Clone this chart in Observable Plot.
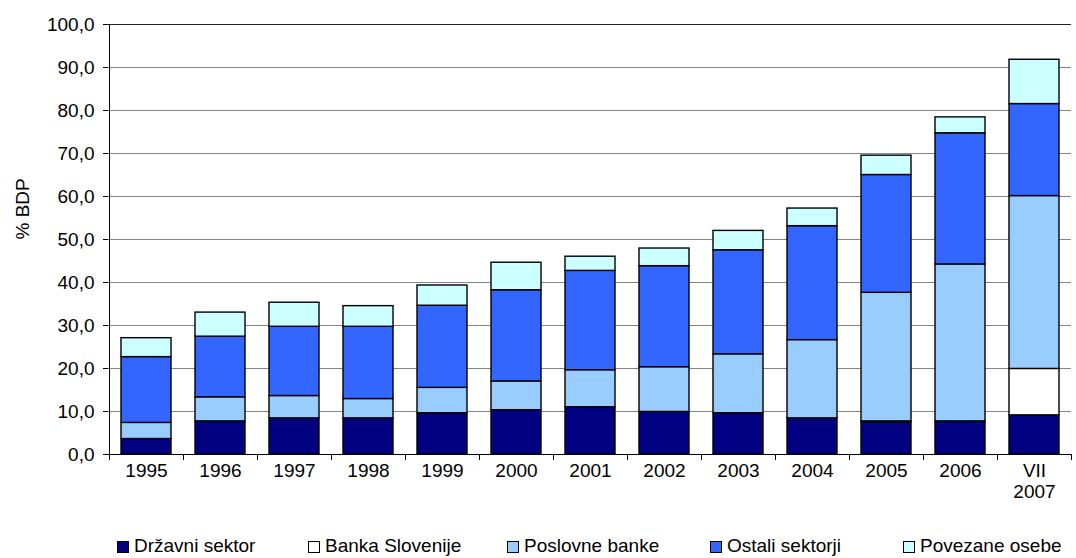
<!DOCTYPE html>
<html><head><meta charset="utf-8">
<script src="https://cdn.jsdelivr.net/npm/d3@7"></script>
<script src="https://cdn.jsdelivr.net/npm/@observablehq/plot@0.6"></script>
<style>
body{margin:0;background:#fff;font-family:"Liberation Sans",Arial,sans-serif;}
#wrap{position:relative;width:1076px;height:558px;overflow:hidden;}
#chart svg{display:block;}
.item{position:absolute;top:535px;height:21px;font-size:19px;line-height:21px;color:#000;white-space:nowrap;}
.sw{display:inline-block;width:10px;height:10px;border:1px solid #000;margin-right:5px;vertical-align:-1px;}
</style></head><body>
<div id="wrap"><div id="chart"></div><div id="legend"></div></div>
<script>
const years = ["1995","1996","1997","1998","1999","2000","2001","2002","2003","2004","2005","2006","VII\n2007"];
const drzavni  = [3.6, 7.7, 8.4, 8.4, 9.6, 10.3, 11.0, 9.9, 9.6, 8.4, 7.5, 7.7, 9.1];
const banka    = [0, 0, 0, 0, 0, 0, 0, 0, 0, 0, 0.2, 0, 10.8];
const poslovne = [3.75, 5.6, 5.2, 4.5, 5.9, 6.7, 8.6, 10.4, 13.7, 18.2, 29.9, 36.5, 40.2];
const ostali   = [15.3, 14.1, 16.1, 16.8, 19.1, 21.2, 23.1, 23.5, 24.2, 26.5, 27.4, 30.5, 21.4];
const povezane = [4.4, 5.6, 5.6, 4.8, 4.7, 6.4, 3.3, 4.1, 4.5, 4.1, 4.5, 3.7, 10.3];
const seriesNames = ["Državni sektor","Banka Slovenije","Poslovne banke","Ostali sektorji","Povezane osebe"];
const seriesColors = ["#000080","#ffffff","#99ccff","#3366ff","#ccffff"];
const yTicks = [0,10,20,30,40,50,60,70,80,90,100];

const seriesValues = [drzavni, banka, poslovne, ostali, povezane];
const data = [];
years.forEach((yr, i) => seriesValues.forEach((arr, k) => data.push({year: yr, series: seriesNames[k], value: arr[i]})));

const H = 528, W = 1076;
const fmt = d => d.toFixed(1).replace(".", ",");
const half = -37;
const chart = Plot.plot({
  width: W, height: H,
  marginLeft: 108, marginRight: 5, marginTop: 24, marginBottom: H - 454,
  style: {fontFamily: '"Liberation Sans", Arial, sans-serif', fontSize: "19px", background: "#fff", color: "#000"},
  x: {domain: years, paddingInner: 0.325, paddingOuter: 0.1625, label: null},
  y: {domain: [0, 100], label: null},
  color: {domain: seriesNames, range: seriesColors},
  marks: [
    Plot.gridY(yTicks.slice(1, -1), {stroke: "#868686", strokeOpacity: 1, strokeWidth: 1}),
    Plot.ruleY([100], {stroke: "#222", strokeWidth: 1}),
    Plot.barY(data, {x: "year", y: "value", fill: "series", stroke: "#000", strokeWidth: 1.4, order: seriesNames}),
    Plot.ruleY([0], {stroke: "#000", strokeWidth: 1}),
    Plot.ruleX([years[0]], {x: d => d, y1: 0, y2: 100, dx: half, stroke: "#000", strokeWidth: 1}),
    Plot.ruleX(years, {x: d => d, y1: 0, y2: 0, insetBottom: -6, dx: half, stroke: "#000"}),
    Plot.ruleX([years[years.length - 1]], {x: d => d, y1: 0, y2: 0, insetBottom: -6, dx: -half, stroke: "#000"}),
    Plot.axisY(yTicks, {tickSize: 5, tickPadding: 9, tickFormat: fmt, label: null, fontSize: 19}),
    Plot.axisX({tickSize: 0, tickPadding: 7, label: null, fontSize: 19, lineHeight: 1.12}),
    Plot.text(["% BDP"], {frameAnchor: "left", rotate: -90, dx: -86, fontSize: 19})
  ]
});
document.getElementById("chart").appendChild(chart);

const legendX = [117, 308, 507, 710, 903];
const legend = document.getElementById("legend");
seriesNames.forEach((name, k) => {
  const it = document.createElement("div");
  it.className = "item";
  it.style.left = legendX[k] + "px";
  const sw = document.createElement("span");
  sw.className = "sw";
  sw.style.background = seriesColors[k];
  it.appendChild(sw);
  it.appendChild(document.createTextNode(name));
  legend.appendChild(it);
});
</script>
</body></html>
